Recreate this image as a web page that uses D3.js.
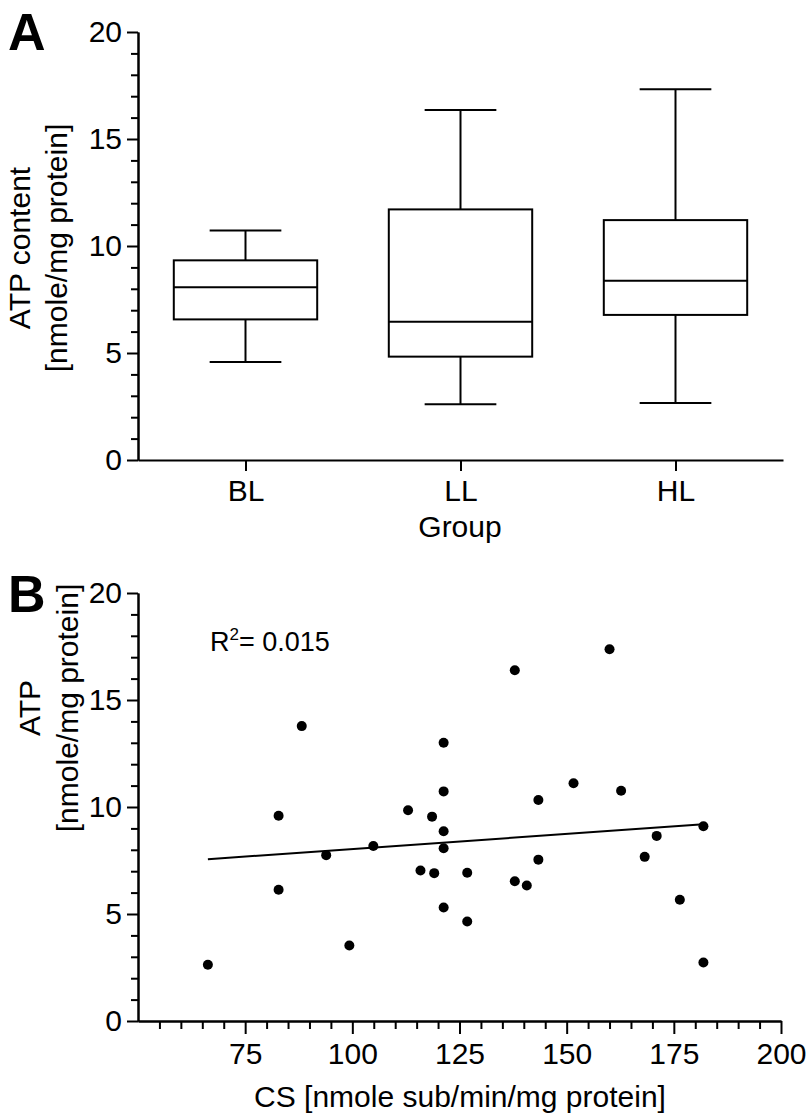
<!DOCTYPE html>
<html>
<head>
<meta charset="utf-8">
<script src="https://cdn.jsdelivr.net/npm/d3@7"></script>
<style>
  body { margin: 0; background: #fff; }
  svg { font-family: "Liberation Sans", Arial, sans-serif; }
  .axis path, .axis line { stroke: #000; stroke-width: 2; }
  .axis text { font-size: 30px; fill: #000; }
</style>
</head>
<body>
<div id="canvas"></div>
<script>
// Panel A - box plot
const groups = ["BL", "LL", "HL"];
const whiskerLow = [4.58, 2.60, 2.66];
const q1 = [6.57, 4.83, 6.78];
const median = [8.07, 6.46, 8.38];
const q3 = [9.33, 11.71, 11.21];
const whiskerHigh = [10.73, 16.36, 17.32];

// Panel B - ATP vs CS scatter
const csValues = [66.3, 82.8, 82.8, 88.2, 93.9, 99.3, 104.9, 113.0, 115.9, 118.6, 119.1,
  121.3, 121.3, 121.3, 121.3, 121.3, 126.8, 126.8, 137.9, 137.9, 140.7, 143.4, 143.4,
  151.6, 160.0, 162.7, 168.2, 171.0, 176.4, 181.9, 181.9];
const atpValues = [2.63, 9.59, 6.13, 13.78, 7.75, 3.53, 8.18, 9.85, 7.03, 9.55, 6.91,
  13.0, 10.73, 8.87, 8.07, 5.30, 6.93, 4.65, 16.39, 6.53, 6.33, 10.33, 7.54,
  11.11, 17.37, 10.76, 7.67, 8.65, 5.67, 9.10, 2.73];
const fitX = [66.3, 181.9];
const fitY = [7.56, 9.19];
const rSquared = "0.015";

const yMajorTicks = [0, 5, 10, 15, 20];
const yMinorTicks = d3.range(0, 21).filter(d => d % 5 !== 0);
const xMajorTicksB = [75, 100, 125, 150, 175, 200];
const xMinorTicksB = d3.range(55, 200, 5).filter(d => d % 25 !== 0);

const width = 811, height = 1117;
const svg = d3.select("#canvas").append("svg")
  .attr("width", width).attr("height", height);

// ---------- panel A ----------
const yA = d3.scaleLinear().domain([0, 20]).range([460, 32]);
const xA = d3.scalePoint().domain(groups).range([138, 783]).padding(0.5);
const boxW = xA.step() * 0.667;

const gA = svg.append("g");

gA.append("g").attr("class", "axis")
  .attr("transform", "translate(138,0)")
  .call(d3.axisLeft(yA).tickValues(yMinorTicks).tickFormat("").tickSize(7).tickSizeOuter(0));
gA.append("g").attr("class", "axis")
  .attr("transform", "translate(138,0)")
  .call(d3.axisLeft(yA).tickValues(yMajorTicks).tickSize(11).tickPadding(5).tickSizeOuter(0));

gA.append("g").attr("class", "axis")
  .attr("transform", "translate(0,460)")
  .call(d3.axisBottom(xA).tickSize(11).tickPadding(9).tickSizeOuter(0));

const boxes = gA.selectAll(".box").data(groups).enter().append("g").attr("class", "box");
boxes.append("line")
  .attr("x1", d => xA(d)).attr("x2", d => xA(d))
  .attr("y1", (d, i) => yA(whiskerHigh[i])).attr("y2", (d, i) => yA(q3[i]));
boxes.append("line")
  .attr("x1", d => xA(d)).attr("x2", d => xA(d))
  .attr("y1", (d, i) => yA(q1[i])).attr("y2", (d, i) => yA(whiskerLow[i]));
boxes.append("line")
  .attr("x1", d => xA(d) - boxW / 4).attr("x2", d => xA(d) + boxW / 4)
  .attr("y1", (d, i) => yA(whiskerHigh[i])).attr("y2", (d, i) => yA(whiskerHigh[i]));
boxes.append("line")
  .attr("x1", d => xA(d) - boxW / 4).attr("x2", d => xA(d) + boxW / 4)
  .attr("y1", (d, i) => yA(whiskerLow[i])).attr("y2", (d, i) => yA(whiskerLow[i]));
boxes.append("rect")
  .attr("x", d => xA(d) - boxW / 2).attr("width", boxW)
  .attr("y", (d, i) => yA(q3[i])).attr("height", (d, i) => yA(q1[i]) - yA(q3[i]))
  .attr("fill", "none");
boxes.append("line")
  .attr("x1", d => xA(d) - boxW / 2).attr("x2", d => xA(d) + boxW / 2)
  .attr("y1", (d, i) => yA(median[i])).attr("y2", (d, i) => yA(median[i]));
boxes.selectAll("line, rect").attr("stroke", "#000").attr("stroke-width", 2);

gA.append("text").attr("x", 8).attr("y", 50)
  .attr("font-size", 52).attr("font-weight", "bold").text("A");

const yTitleA = gA.append("text")
  .attr("transform", "translate(0,248) rotate(-90)")
  .attr("text-anchor", "middle").attr("font-size", 30);
yTitleA.append("tspan").attr("x", 0).attr("y", 30).text("ATP content");
yTitleA.append("tspan").attr("x", 0).attr("y", 67).text("[nmole/mg protein]");

gA.append("text").attr("x", 460).attr("y", 537)
  .attr("text-anchor", "middle").attr("font-size", 30).text("Group");

// ---------- panel B ----------
const yB = d3.scaleLinear().domain([0, 20]).range([1021, 593]);
const xB = d3.scaleLinear().domain([50, 200]).range([138, 781]);

const gB = svg.append("g");

gB.append("g").attr("class", "axis")
  .attr("transform", "translate(138,0)")
  .call(d3.axisLeft(yB).tickValues(yMinorTicks).tickFormat("").tickSize(7).tickSizeOuter(0));
gB.append("g").attr("class", "axis")
  .attr("transform", "translate(138,0)")
  .call(d3.axisLeft(yB).tickValues(yMajorTicks).tickSize(11).tickPadding(5).tickSizeOuter(0));

gB.append("g").attr("class", "axis")
  .attr("transform", "translate(0,1021)")
  .call(d3.axisBottom(xB).tickValues(xMinorTicksB).tickFormat("").tickSize(8).tickSizeOuter(0));
gB.append("g").attr("class", "axis")
  .attr("transform", "translate(0,1021)")
  .call(d3.axisBottom(xB).tickValues(xMajorTicksB).tickSize(13).tickPadding(9).tickSizeOuter(0));

gB.append("path")
  .datum(fitX.map((x, i) => [x, fitY[i]]))
  .attr("fill", "none").attr("stroke", "#000").attr("stroke-width", 2)
  .attr("d", d3.line().x(d => xB(d[0])).y(d => yB(d[1])));

gB.selectAll(".dot").data(csValues).enter().append("circle")
  .attr("class", "dot")
  .attr("cx", d => xB(d))
  .attr("cy", (d, i) => yB(atpValues[i]))
  .attr("r", 5).attr("fill", "#000");

const r2 = gB.append("text").attr("x", 210).attr("y", 651).attr("font-size", 27);
r2.append("tspan").text("R");
r2.append("tspan").attr("font-size", 17).attr("dy", -11).text("2");
r2.append("tspan").attr("dy", 11).text("= " + rSquared);

gB.append("text").attr("x", 8).attr("y", 612)
  .attr("font-size", 52).attr("font-weight", "bold").text("B");

const yTitleB = gB.append("text")
  .attr("transform", "translate(0,708) rotate(-90)")
  .attr("text-anchor", "middle").attr("font-size", 30);
yTitleB.append("tspan").attr("x", 0).attr("y", 40).text("ATP");
yTitleB.append("tspan").attr("x", 0).attr("y", 78).text("[nmole/mg protein]");

gB.append("text").attr("x", 460).attr("y", 1107)
  .attr("text-anchor", "middle").attr("font-size", 30).text("CS [nmole sub/min/mg protein]");
</script>
</body>
</html>
